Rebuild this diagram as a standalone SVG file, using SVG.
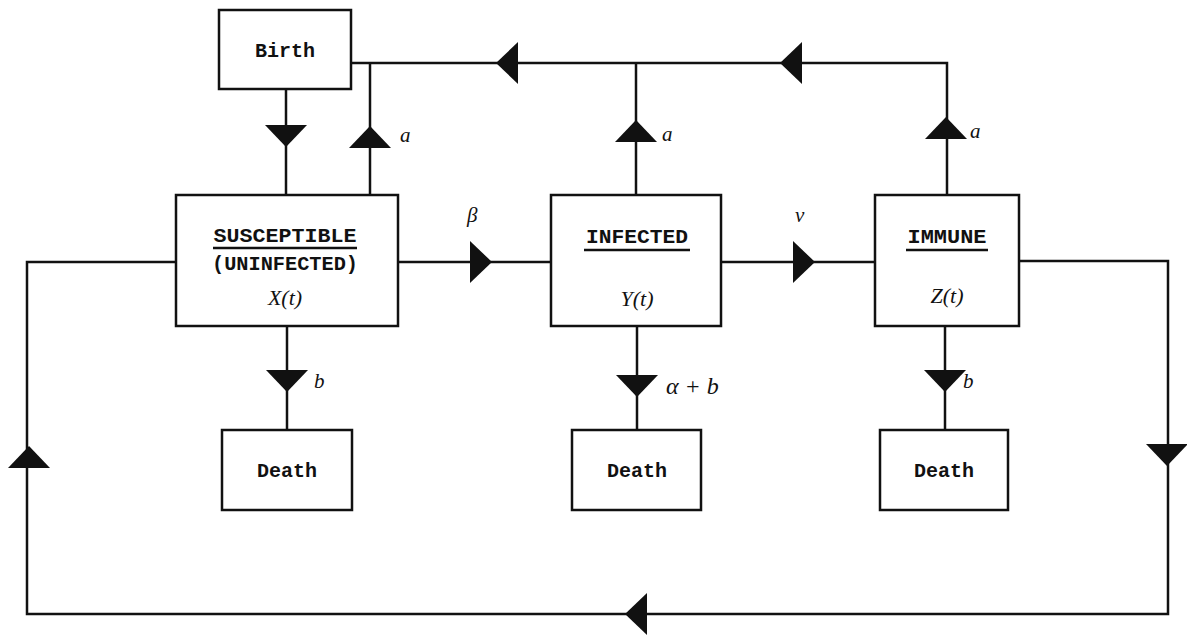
<svg xmlns="http://www.w3.org/2000/svg" xmlns:xlink="http://www.w3.org/1999/xlink" width="1187" height="637" viewBox="0 0 1187 637">
<style>
.box{fill:#fff;stroke:#111;stroke-width:2.5}
.ln{fill:none;stroke:#111;stroke-width:2.5}
.ul{stroke:#111;stroke-width:2.5}
.mono{font-family:"Liberation Mono","DejaVu Sans Mono",monospace;font-weight:bold;fill:#111;text-anchor:middle}
.it{font-family:"Liberation Serif","DejaVu Serif",serif;font-style:italic;fill:#111}
.arr{fill:#111}
</style>
<defs>
<path id="tri-r" d="M-11,-21 L11,0 L-11,21 Z"/>
<path id="tri-l" d="M11,-21 L-11,0 L11,21 Z"/>
<path id="tri-u" d="M-21,11 L0,-11 L21,11 Z"/>
<path id="tri-d" d="M-21,-11 L0,11 L21,-11 Z"/>
</defs>
<rect width="1187" height="637" fill="#fff"/>
<g id="connectors">
<path class="ln" d="M351,63 H947 V195"/>
<path class="ln" d="M286,89 V195"/>
<path class="ln" d="M370,63 V195"/>
<path class="ln" d="M636,63 V195"/>
<path class="ln" d="M398,262 H551"/>
<path class="ln" d="M721,262 H875"/>
<path class="ln" d="M287,326 V430"/>
<path class="ln" d="M637,326 V430"/>
<path class="ln" d="M945,326 V430"/>
<path class="ln" d="M176,262 H27 V614 H1168 V261 H1019"/>
<g class="arr">
<use xlink:href="#tri-d" x="286" y="136"/>
<use xlink:href="#tri-u" x="370" y="137"/>
<use xlink:href="#tri-u" x="636" y="131"/>
<use xlink:href="#tri-u" x="946" y="128"/>
<use xlink:href="#tri-l" x="507" y="63"/>
<use xlink:href="#tri-l" x="791" y="63"/>
<use xlink:href="#tri-r" x="481" y="262"/>
<use xlink:href="#tri-r" x="804" y="262"/>
<use xlink:href="#tri-d" x="287" y="381"/>
<use xlink:href="#tri-d" x="637" y="386"/>
<use xlink:href="#tri-d" x="945" y="381"/>
<use xlink:href="#tri-u" x="29" y="457"/>
<use xlink:href="#tri-d" x="1167" y="455"/>
<use xlink:href="#tri-l" x="636" y="614"/>
</g>
<text class="it" x="400" y="142" font-size="21">a</text>
<text class="it" x="662" y="141" font-size="21">a</text>
<text class="it" x="970" y="138" font-size="21">a</text>
<text class="it" x="467" y="222" font-size="21">β</text>
<text class="it" x="795" y="222" font-size="21">ν</text>
<text class="it" x="314" y="388" font-size="21">b</text>
<text class="it" x="666" y="394" font-size="24">α + b</text>
<text class="it" x="963" y="388" font-size="21">b</text>
</g>
<g id="birth">
<rect class="box" x="219" y="10" width="132" height="79"/>
<text class="mono" x="285" y="57" font-size="20">Birth</text>
</g>
<g id="susceptible">
<rect class="box" x="176" y="195" width="222" height="131"/>
<text class="mono" x="285" y="242" font-size="21" textLength="143" lengthAdjust="spacingAndGlyphs">SUSCEPTIBLE</text>
<line class="ul" x1="213" y1="248" x2="357" y2="248"/>
<text class="mono" x="285" y="270" font-size="21" textLength="146" lengthAdjust="spacingAndGlyphs">(UNINFECTED)</text>
<text class="it" x="285" y="305" font-size="22" text-anchor="middle">X(t)</text>
</g>
<g id="infected">
<rect class="box" x="551" y="195" width="170" height="131"/>
<text class="mono" x="637" y="243" font-size="21" textLength="102" lengthAdjust="spacingAndGlyphs">INFECTED</text>
<line class="ul" x1="584" y1="250" x2="690" y2="250" stroke-width="3"/>
<text class="it" x="637" y="306" font-size="22" text-anchor="middle">Y(t)</text>
</g>
<g id="immune">
<rect class="box" x="875" y="195" width="144" height="131"/>
<text class="mono" x="947" y="243" font-size="21" textLength="79" lengthAdjust="spacingAndGlyphs">IMMUNE</text>
<line class="ul" x1="906" y1="250" x2="988" y2="250"/>
<text class="it" x="947" y="303" font-size="22" text-anchor="middle">Z(t)</text>
</g>
<g id="death1">
<rect class="box" x="222" y="430" width="130" height="80"/>
<text class="mono" x="287" y="477" font-size="20">Death</text>
</g>
<g id="death2">
<rect class="box" x="572" y="430" width="129" height="80"/>
<text class="mono" x="637" y="477" font-size="20">Death</text>
</g>
<g id="death3">
<rect class="box" x="880" y="430" width="128" height="80"/>
<text class="mono" x="944" y="477" font-size="20">Death</text>
</g>
</svg>
